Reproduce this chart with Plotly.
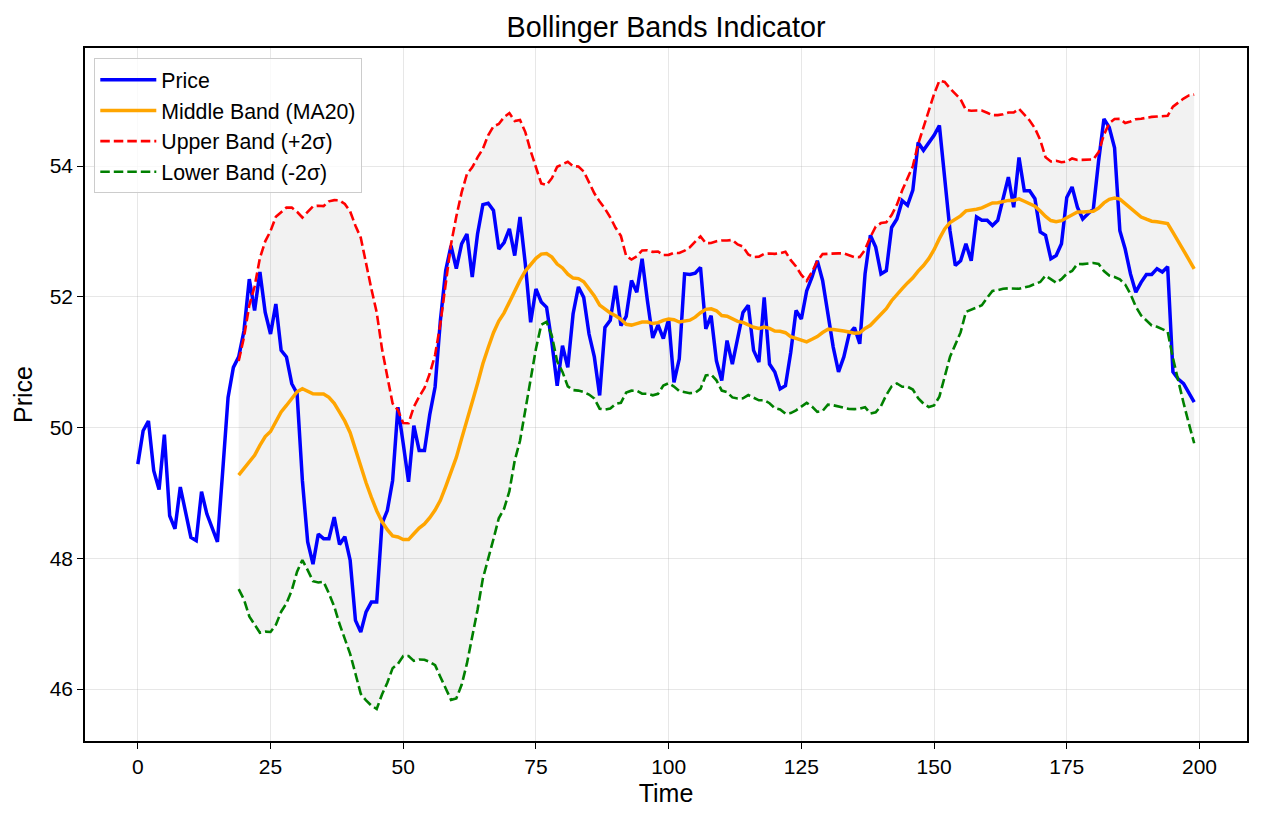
import numpy as np
import pandas as pd
import plotly.graph_objects as go

# ---- data ----
time_index = list(range(200))
price = [
    49.44, 49.95, 50.10, 49.34, 49.05, 49.89, 48.65, 48.45, 49.09, 48.68,
    48.32, 48.27, 49.02, 48.68, 48.47, 48.25, 49.34, 50.46, 50.92, 51.08,
    51.48, 52.27, 51.79, 52.38, 51.76, 51.43, 51.89, 51.18, 51.08, 50.67,
    50.52, 49.19, 48.25, 47.91, 48.37, 48.30, 48.30, 48.63, 48.21, 48.33,
    47.97, 47.05, 46.87, 47.18, 47.33, 47.33, 48.53, 48.73, 49.19, 50.31,
    49.75, 49.17, 50.03, 49.65, 49.65, 50.20, 50.62, 51.64, 52.40, 52.78,
    52.43, 52.81, 52.96, 52.30, 52.96, 53.41, 53.43, 53.32, 52.73, 52.83,
    53.04, 52.63, 53.22, 52.50, 51.61, 52.12, 51.92, 51.84, 51.30, 50.64,
    51.25, 50.92, 51.74, 52.15, 51.99, 51.43, 51.08, 50.49, 51.53, 51.64,
    52.17, 51.56, 51.70, 52.25, 52.07, 52.58, 51.94, 51.37, 51.57, 51.36,
    51.66, 50.69, 51.05, 52.35, 52.34, 52.36, 52.45, 51.51, 51.71, 51.02,
    50.72, 51.33, 50.97, 51.40, 51.76, 51.87, 51.18, 51.00, 51.99, 50.97,
    50.85, 50.59, 50.64, 51.15, 51.79, 51.66, 52.09, 52.30, 52.55, 52.25,
    51.74, 51.23, 50.85, 51.08, 51.43, 51.53, 51.28, 52.35, 52.94, 52.76,
    52.35, 52.40, 53.06, 53.19, 53.47, 53.40, 53.63, 54.36, 54.24, 54.36,
    54.47, 54.62, 53.83, 53.01, 52.48, 52.55, 52.81, 52.55, 53.22, 53.17,
    53.17, 53.09, 53.17, 53.52, 53.83, 53.37, 54.13, 53.62, 53.62, 53.50,
    52.99, 52.94, 52.58, 52.63, 52.81, 53.52, 53.68, 53.37, 53.19, 53.27,
    53.34, 54.08, 54.72, 54.59, 54.28, 53.01, 52.73, 52.35, 52.07, 52.22,
    52.34, 52.34, 52.43, 52.38, 52.46, 50.85, 50.74, 50.67, 50.52, 50.39,
]
window = 20
x_ticks = [0, 25, 50, 75, 100, 125, 150, 175, 200]
y_ticks = [46, 48, 50, 52, 54]

# Bollinger bands derived from the price series (MA20 +/- 2 sigma)
s = pd.Series(price)
middle = s.rolling(window).mean()
sigma = s.rolling(window).std()
upper = middle + 2 * sigma
lower = middle - 2 * sigma

FONT = "Arial, 'Liberation Sans', sans-serif"
dash_style = "9.5px,4px"

fig = go.Figure()

# shaded band
fig.add_trace(go.Scatter(x=time_index, y=upper, mode="lines",
                         line=dict(width=0, color="rgba(0,0,0,0)"),
                         showlegend=False, hoverinfo="skip"))
fig.add_trace(go.Scatter(x=time_index, y=lower, mode="lines",
                         line=dict(width=0, color="rgba(0,0,0,0)"),
                         fill="tonexty", fillcolor="rgba(128,128,128,0.1)",
                         showlegend=False, hoverinfo="skip"))

fig.add_trace(go.Scatter(x=time_index, y=price, mode="lines", name="Price",
                         line=dict(color="#0000ff", width=3.5)))
fig.add_trace(go.Scatter(x=time_index, y=middle, mode="lines", name="Middle Band (MA20)",
                         line=dict(color="#ffa500", width=3.5)))
fig.add_trace(go.Scatter(x=time_index, y=upper, mode="lines", name="Upper Band (+2σ)",
                         line=dict(color="#ff0000", width=2.6, dash=dash_style)))
fig.add_trace(go.Scatter(x=time_index, y=lower, mode="lines", name="Lower Band (-2σ)",
                         line=dict(color="#008000", width=2.6, dash=dash_style)))

fig.update_layout(
    width=1262, height=822,
    margin=dict(l=85, r=15, t=48, b=81),
    paper_bgcolor="white", plot_bgcolor="white",
    font=dict(family=FONT, color="black", size=21),
    title=dict(text="Bollinger Bands Indicator", x=0.5278, xanchor="center",
               y=1 - 27 / 822, yanchor="middle", font=dict(size=28.7, family=FONT)),
    legend=dict(x=0.008, y=0.985, xanchor="left", yanchor="top",
                traceorder="normal",
                bgcolor="rgba(255,255,255,0.8)", bordercolor="#cccccc", borderwidth=1,
                font=dict(size=21.3, family=FONT), tracegroupgap=0,
                itemwidth=56),
    showlegend=True,
)

fig.update_xaxes(
    range=[-9.95, 208.95], tickvals=x_ticks, ticktext=[str(v) for v in x_ticks],
    showgrid=True, gridcolor="rgba(176,176,176,0.3)", gridwidth=1,
    showline=True, mirror=True, linecolor="black", linewidth=1.5,
    ticks="outside", ticklen=6, tickwidth=1.3, tickcolor="black",
    tickfont=dict(size=21, family=FONT), zeroline=False,
    title=dict(text="Time", font=dict(size=25, family=FONT), standoff=8),
)
fig.update_yaxes(
    range=[45.205, 55.805], tickvals=y_ticks, ticktext=[str(v) for v in y_ticks],
    showgrid=True, gridcolor="rgba(176,176,176,0.3)", gridwidth=1,
    showline=True, mirror=True, linecolor="black", linewidth=1.5,
    ticks="outside", ticklen=6, tickwidth=1.3, tickcolor="black",
    tickfont=dict(size=21, family=FONT), zeroline=False,
    title=dict(text="Price", font=dict(size=25, family=FONT), standoff=10),
)

fig.write_html("out.html")
